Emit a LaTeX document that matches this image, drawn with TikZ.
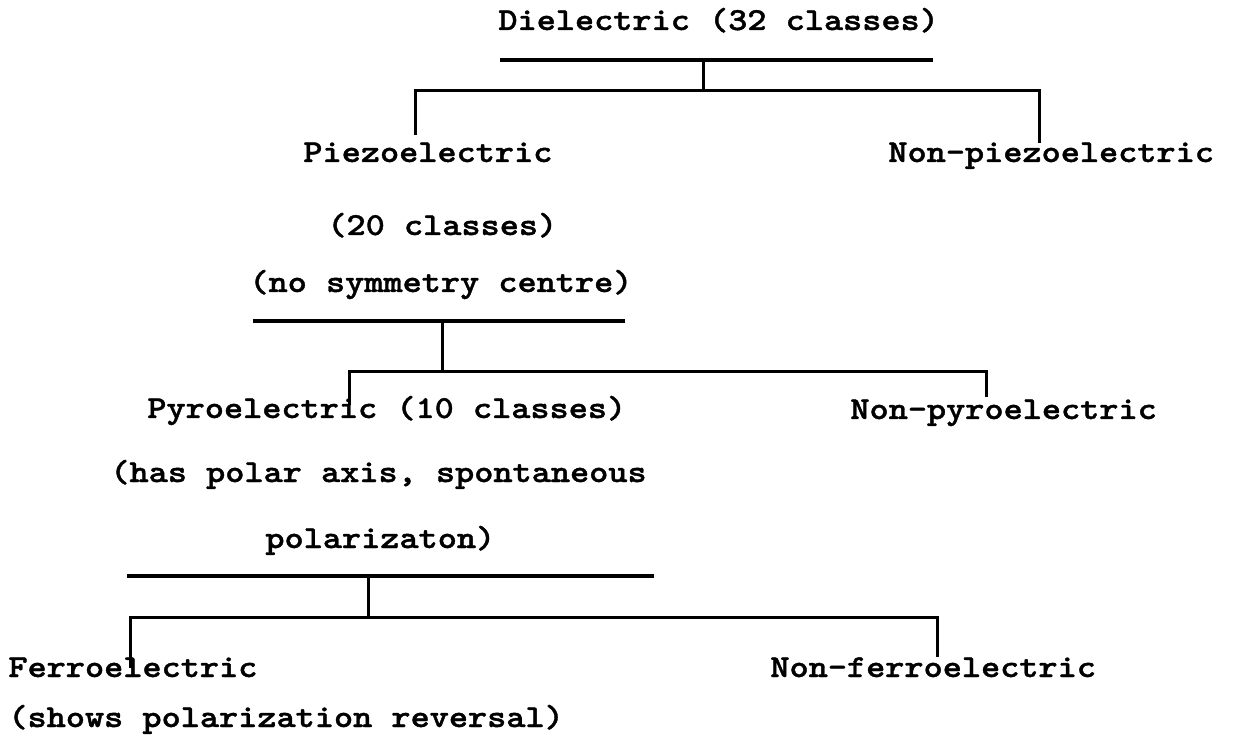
\documentclass[tikz,border=0pt]{standalone}
\usepackage{fontspec}
\newfontfamily\monob{lmmonolt10-bold}[Extension=.otf,FakeStretch=1.14,FakeBold=1.2]
\tikzset{
  lbl/.style={anchor=base west, inner sep=0pt, font=\monob\fontsize{16pt}{19pt}\selectfont},
  rule/.style={line width=1.6pt, line cap=butt},
  branch/.style={line width=1.5pt, line join=miter}
}
\begin{document}
\begin{tikzpicture}[x=0.5pt,y=-0.5pt]
\useasboundingbox (0,0) rectangle (1233,754);
% labels
\node[lbl] (diel)  at (498,30)  {Dielectric (32 classes)};
\node[lbl] (piezo) at (303,162) {Piezoelectric};
\node[lbl] (piezob) at (327,235) {(20 classes)};
\node[lbl] (piezoc) at (249,292) {(no symmetry centre)};
\node[lbl] (npiezo) at (888,162) {Non-piezoelectric};
\node[lbl] (pyro)  at (147,418) {Pyroelectric (10 classes)};
\node[lbl] (pyrob) at (110,482) {(has polar axis, spontaneous};
\node[lbl] (pyroc) at (265,548) {polarizaton)};
\node[lbl] (npyro) at (850,419) {Non-pyroelectric};
\node[lbl] (ferro) at (8,677)   {Ferroelectric};
\node[lbl] (ferrob) at (8,727)  {(shows polarization reversal)};
\node[lbl] (nferro) at (770,677) {Non-ferroelectric};
% level 1
\coordinate (r1l) at (500,60);  \coordinate (r1r) at (933,60);
\coordinate (r1m) at (703,60);  \coordinate (j1)  at (703,91);
\coordinate (c1l) at (415,91);  \coordinate (c1r) at (1039,91);
\coordinate (e1l) at (415,135); \coordinate (e1r) at (1039,143);
\draw[rule] (r1l) -- (r1r);
\draw[branch] (r1m) -- (j1);
\draw[branch] (e1l) -- (c1l) -- (c1r) -- (e1r);
% level 2
\coordinate (r2l) at (253,321); \coordinate (r2r) at (625,321);
\coordinate (r2m) at (442,321); \coordinate (j2)  at (442,372);
\coordinate (c2l) at (349,372); \coordinate (c2r) at (986,372);
\coordinate (e2l) at (349,405); \coordinate (e2r) at (986,397);
\draw[rule] (r2l) -- (r2r);
\draw[branch] (r2m) -- (j2);
\draw[branch] (e2l) -- (c2l) -- (c2r) -- (e2r);
% level 3
\coordinate (r3l) at (127,576); \coordinate (r3r) at (654,576);
\coordinate (r3m) at (368,576); \coordinate (j3)  at (368,617);
\coordinate (c3l) at (130,617); \coordinate (c3r) at (937,617);
\coordinate (e3l) at (130,668); \coordinate (e3r) at (937,657);
\draw[rule] (r3l) -- (r3r);
\draw[branch] (r3m) -- (j3);
\draw[branch] (e3l) -- (c3l) -- (c3r) -- (e3r);
\end{tikzpicture}
\end{document}
